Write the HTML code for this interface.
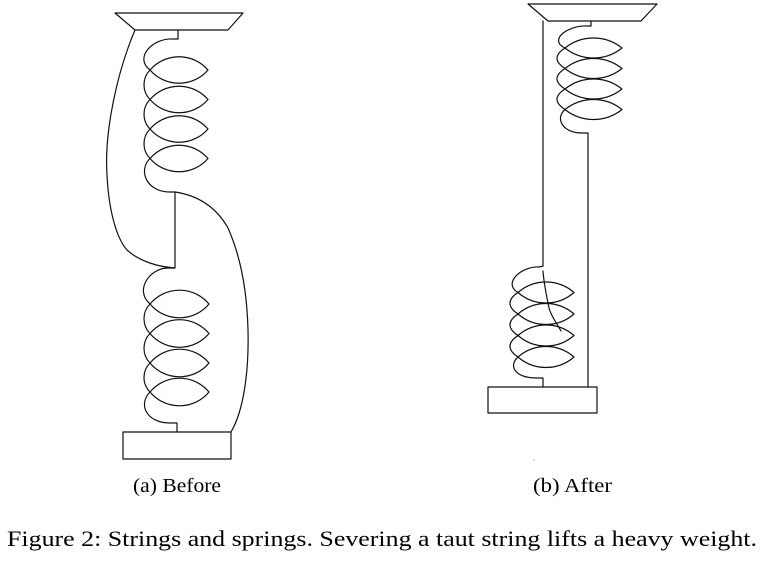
<!DOCTYPE html>
<html>
<head>
<meta charset="utf-8">
<style>
  html, body { margin:0; padding:0; background:#fff; }
  body { width:764px; height:564px; overflow:hidden; }
  svg { display:block; }
  text { font-family: "Liberation Serif", "DejaVu Serif", serif; fill:#000; }
</style>
</head>
<body>
<svg width="764" height="564" viewBox="0 0 764 564" xmlns="http://www.w3.org/2000/svg">
  <g fill="none" stroke="#111" stroke-width="1.2" stroke-linejoin="round" stroke-linecap="round">
    <!-- ===== (a) Before ===== -->
    <polygon points="115,13 243,13 228,30 135,30"/>
    <path d="M178,30 L178,39 L173,39 C152,38 134,58 150,70
      A38.3,38.3 0 0 0 208,70 A38.3,38.3 0 0 0 150,70
      C142,78 142,91.5 150,99.5
      A38.3,38.3 0 0 0 208,99.5 A38.3,38.3 0 0 0 150,99.5
      C142,107.5 142,121 150,129
      A38.3,38.3 0 0 0 208,129 A38.3,38.3 0 0 0 150,129
      C142,137 142,150.5 150,158.5
      A38.3,38.3 0 0 0 208,158.5 A38.3,38.3 0 0 0 150,158.5
      C138,170 146,192 170,192 L175,192 L175,268 L168,268
      C150,268 134,290 150,304
      A38.4,38.4 0 0 0 209,304 A38.4,38.4 0 0 0 150,304
      C142,312 142,325.5 150,333.5
      A38.4,38.4 0 0 0 209,333.5 A38.4,38.4 0 0 0 150,333.5
      C142,341.5 142,355 150,363
      A38.4,38.4 0 0 0 209,363 A38.4,38.4 0 0 0 150,363
      C142,371 142,384 150,392
      A38.4,38.4 0 0 0 209,392 A38.4,38.4 0 0 0 150,392
      C138,404 146,423 170,423 L177,423 L177,432"/>
    <path d="M135,30 C118,70 104,130 107,175 C109,215 118,240 127,250 C140,262 160,267 175,268"/>
    <path d="M175,192 C195,195 215,205 228,228 C240,255 247,290 248,330 C249,370 244,410 231,432"/>
    <rect x="123" y="432" width="108" height="27"/>

    <!-- ===== (b) After ===== -->
    <polygon points="528,4 657,4 641,21 548,21"/>
    <path d="M543,21 L543,266"/>
    <path d="M543,271 C544,285 547,298 549,308 C551,316 556,322 561,331"/>
    <path d="M591,21 L591,26 L587,26 C568,25 548,40 565,48
      A45.6,45.6 0 0 0 622,48 A45.6,45.6 0 0 0 565,48
      C554.3,55 554.3,61.5 565,68.5
      A45.6,45.6 0 0 0 622,68.5 A45.6,45.6 0 0 0 565,68.5
      C554.3,75.5 554.3,82 565,89
      A45.6,45.6 0 0 0 622,89 A45.6,45.6 0 0 0 565,89
      C554.3,96 554.3,102.5 565,109.5
      A45.6,45.6 0 0 0 622,109.5 A45.6,45.6 0 0 0 565,109.5
      C555,118 562,133 582,133 L588,133 L588,387"/>
    <path d="M543,266 L539,267 C522,266 502,283 518,292.5
      A42.6,42.6 0 0 0 574,292.5 A42.6,42.6 0 0 0 518,292.5
      C507.3,299.5 507.3,307 518,314
      A42.6,42.6 0 0 0 574,314 A42.6,42.6 0 0 0 518,314
      C507.3,321 507.3,328.5 518,335.5
      A42.6,42.6 0 0 0 574,335.5 A42.6,42.6 0 0 0 518,335.5
      C507.3,342.5 507.3,350 518,357
      A42.6,42.6 0 0 0 574,357 A42.6,42.6 0 0 0 518,357
      C508,366 515,378 537,378 L543,378 L543,387"/>
    <rect x="488" y="387" width="109" height="26"/>
  </g>
  <rect x="533.5" y="459.5" width="1" height="1" fill="#888"/>

  <text x="133" y="492" font-size="20" textLength="88" lengthAdjust="spacingAndGlyphs">(a) Before</text>
  <text x="533" y="492" font-size="20" textLength="79" lengthAdjust="spacingAndGlyphs">(b) After</text>
  <text x="7" y="546" font-size="22" textLength="750" lengthAdjust="spacingAndGlyphs">Figure 2: Strings and springs. Severing a taut string lifts a heavy weight.</text>
</svg>
</body>
</html>
